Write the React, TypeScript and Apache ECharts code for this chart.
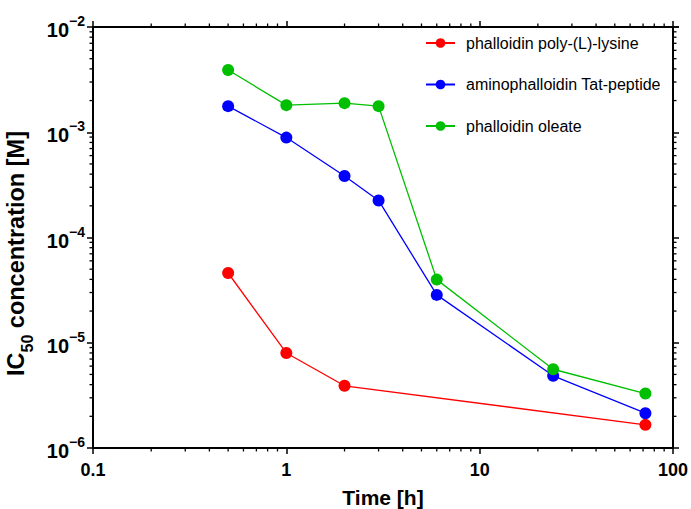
import React, { useEffect, useRef } from "react";
import * as echarts from "echarts";

const timeHours = [0.5, 1, 2, 3, 6, 24, 72];
const polyLysineTimes = [0.5, 1, 2, 72];
const polyLysine = [4.6e-5, 8.0e-6, 3.9e-6, 1.66e-6];
const tatPeptide = [1.77e-3, 8.9e-4, 3.84e-4, 2.25e-4, 2.85e-5, 4.85e-6, 2.14e-6];
const oleate = [3.9e-3, 1.81e-3, 1.89e-3, 1.77e-3, 3.98e-5, 5.6e-6, 3.29e-6];
const seriesNames = ["phalloidin poly-(L)-lysine", "aminophalloidin Tat-peptide", "phalloidin oleate"];
const seriesColors = ["#ff0000", "#0000ff", "#00bf00"];
const xTickLabels = ["0.1", "1", "10", "100"];
const X_MIN = 0.1, X_MAX = 100, Y_MIN = 1e-6, Y_MAX = 1e-2;

function minorTicks(lo: number, hi: number): number[] {
  const out: number[] = [];
  for (let d = lo; d < hi * 0.999; d *= 10) {
    for (let k = 2; k <= 9; k++) out.push(d * k);
  }
  return out;
}

const FONT = "Liberation Sans, Arial, sans-serif";

export default function App() {
  const ref = useRef<HTMLDivElement>(null);
  useEffect(() => {
    const chart = echarts.init(ref.current!, undefined, { renderer: "svg" });
    const xMinor = minorTicks(X_MIN, X_MAX).map((v) => [v, Y_MIN]);
    const yMinor = minorTicks(Y_MIN, Y_MAX).map((v) => [X_MIN, v]);
    const axisLine = { show: true, lineStyle: { color: "#000", width: 2 } };
    const axisTick = { show: true, inside: false, length: 6, lineStyle: { color: "#000", width: 1.5 } };
    const line = (name: string, xs: number[], ys: number[], color: string) => ({
      name,
      type: "line",
      data: xs.map((x, i) => [x, ys[i]]),
      symbol: "circle",
      symbolSize: 12,
      itemStyle: { color },
      lineStyle: { color, width: 1.3 },
      z: 3,
    });
    const tickLen = 3.5;
    chart.setOption({
      animation: false,
      backgroundColor: "#fff",
      grid: { left: 93, right: 18, top: 27, bottom: 61, containLabel: false, outerBoundsMode: "none" },
      legend: {
        data: seriesNames,
        orient: "vertical",
        left: 420,
        top: 30,
        itemWidth: 29,
        itemHeight: 12,
        itemGap: 25.5,
        textStyle: { fontFamily: FONT, fontSize: 16, color: "#000", padding: [0, 0, 0, 6] },
      },
      xAxis: [
        {
          type: "log",
          logBase: 10,
          min: X_MIN,
          max: X_MAX,
          position: "bottom",
          axisLine,
          axisTick,
          splitLine: { show: false },
          axisLabel: {
            margin: 13,
            fontFamily: FONT,
            fontSize: 18,
            fontWeight: "bold",
            color: "#000",
            formatter: (v: number) => xTickLabels[Math.round(Math.log10(v)) + 1] ?? "",
          },
          name: "Time [h]",
          nameLocation: "middle",
          nameGap: 39,
          nameTextStyle: { fontFamily: FONT, fontSize: 21, fontWeight: "bold", color: "#000" },
        },
        {
          type: "log",
          logBase: 10,
          min: X_MIN,
          max: X_MAX,
          position: "top",
          axisLine,
          axisTick,
          splitLine: { show: false },
          axisLabel: { show: false },
        },
      ],
      yAxis: [
        {
          type: "log",
          logBase: 10,
          min: Y_MIN,
          max: Y_MAX,
          position: "left",
          axisLine,
          axisTick,
          splitLine: { show: false },
          axisLabel: {
            margin: 8,
            color: "#000",
            formatter: (v: number) => `{b|10}{s|−${Math.round(-Math.log10(v))}}`,
            rich: {
              b: { fontFamily: FONT, fontSize: 20, fontWeight: "bold", color: "#000", lineHeight: 26, verticalAlign: "bottom" },
              s: { fontFamily: FONT, fontSize: 14, fontWeight: "bold", color: "#000", lineHeight: 14, verticalAlign: "top" },
            },
          },
          name: "{b|IC}{sub|50}{b| concentration [M]}",
          nameLocation: "middle",
          nameRotate: 90,
          nameGap: 40,
          nameTextStyle: {
            padding: [0, 32, 0, 0],
            rich: {
              b: { fontFamily: FONT, fontSize: 23.5, fontWeight: "bold", color: "#000", lineHeight: 24, verticalAlign: "top" },
              sub: { fontFamily: FONT, fontSize: 16, fontWeight: "bold", color: "#000", lineHeight: 32, verticalAlign: "bottom" },
            },
          },
        },
        {
          type: "log",
          logBase: 10,
          min: Y_MIN,
          max: Y_MAX,
          position: "right",
          axisLine,
          axisTick,
          splitLine: { show: false },
          axisLabel: { show: false },
        },
      ],
      series: [
        line(seriesNames[0], polyLysineTimes, polyLysine, seriesColors[0]),
        line(seriesNames[1], timeHours, tatPeptide, seriesColors[1]),
        line(seriesNames[2], timeHours, oleate, seriesColors[2]),
        {
          type: "custom",
          silent: true,
          clip: false,
          data: xMinor,
          renderItem: (params: any, api: any) => {
            const p = api.coord([api.value(0), api.value(1)]);
            const cs = params.coordSys;
            const style = { stroke: "#000", lineWidth: 1.3 };
            return {
              type: "group",
              children: [
                { type: "line", shape: { x1: p[0], y1: cs.y + cs.height, x2: p[0], y2: cs.y + cs.height + tickLen }, style },
                { type: "line", shape: { x1: p[0], y1: cs.y, x2: p[0], y2: cs.y - tickLen }, style },
              ],
            };
          },
        },
        {
          type: "custom",
          silent: true,
          clip: false,
          data: yMinor,
          renderItem: (params: any, api: any) => {
            const p = api.coord([api.value(0), api.value(1)]);
            const cs = params.coordSys;
            const style = { stroke: "#000", lineWidth: 1.3 };
            return {
              type: "group",
              children: [
                { type: "line", shape: { x1: cs.x, y1: p[1], x2: cs.x - tickLen, y2: p[1] }, style },
                { type: "line", shape: { x1: cs.x + cs.width, y1: p[1], x2: cs.x + cs.width + tickLen, y2: p[1] }, style },
              ],
            };
          },
        },
      ],
    });
    return () => chart.dispose();
  }, []);
  return <div ref={ref} style={{ width: 691, height: 509, position: "absolute", left: 0, top: 0 }} />;
}
